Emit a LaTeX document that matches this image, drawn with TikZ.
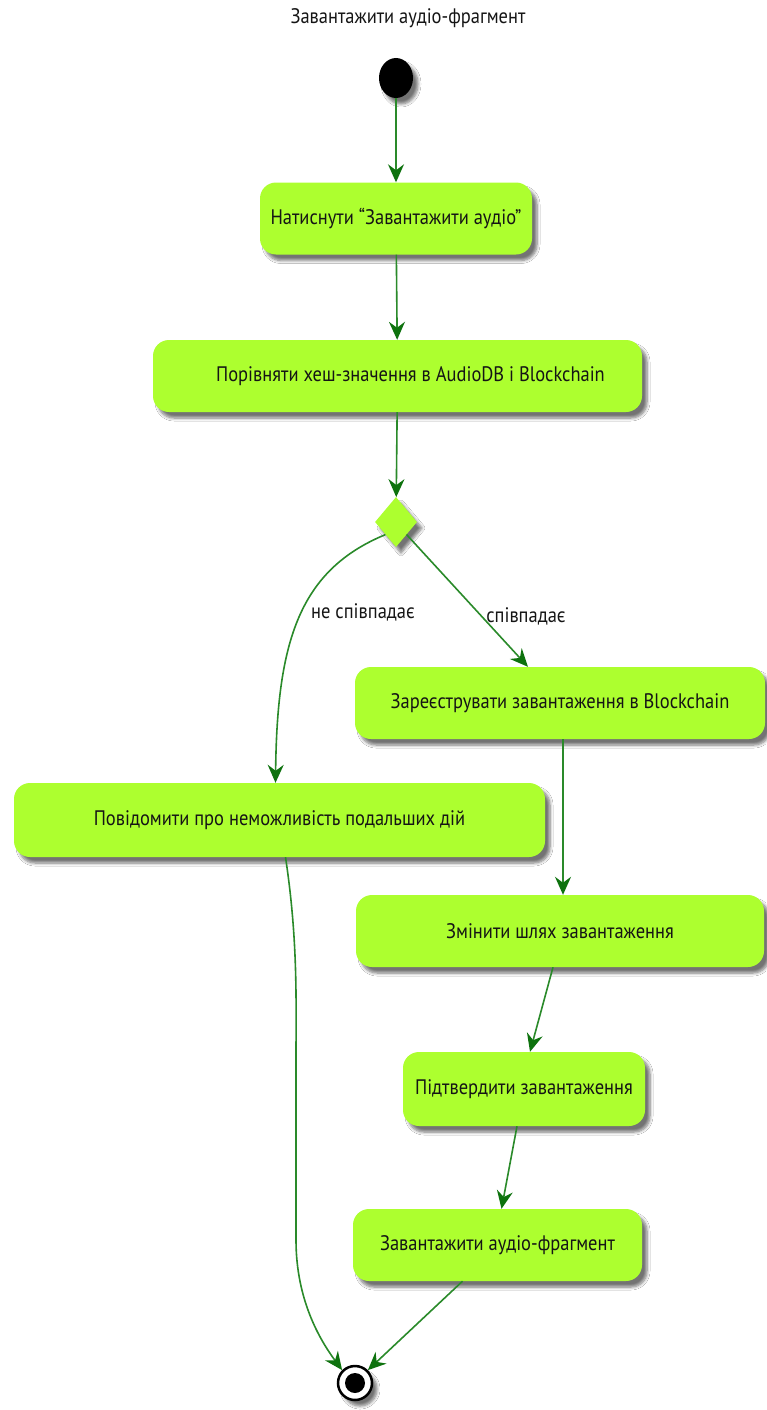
\documentclass[tikz,border=0pt]{standalone}
\usepackage{fontspec}
\setmainfont{PT Sans}[FakeStretch=0.88]
\usetikzlibrary{shapes.geometric,arrows.meta,shadows.blur,calc}

\definecolor{actfill}{HTML}{ADFF2F}
\definecolor{flowline}{HTML}{2A8A2A}
\definecolor{flowtip}{HTML}{0E720E}
\definecolor{inktext}{HTML}{151515}

\tikzset{
  softshadow/.style={blur shadow={shadow xshift=5pt, shadow yshift=-6pt,
      shadow blur radius=3pt, shadow blur steps=6, shadow opacity=55}},
  txt/.style={font=\fontsize{21}{25}\selectfont, text=inktext},
  act/.style={rectangle, rounded corners=16pt, fill=actfill, minimum height=72pt,
      inner sep=0pt, softshadow, txt},
  decision/.style={diamond, fill=actfill, minimum width=42pt, minimum height=50pt,
      inner sep=0pt, softshadow},
  startdot/.style={ellipse, fill=black, minimum width=34pt, minimum height=40pt,
      inner sep=0pt, softshadow},
  enddot/.style={circle, draw=black, line width=2.5pt, fill=white, minimum size=34pt,
      inner sep=0pt, softshadow,
      path picture={\fill[black] (path picture bounding box.center) circle (10pt);}},
  flow/.style={draw=flowline, line width=1.6pt,
      -{Stealth[length=18pt, width=16pt, inset=6pt, color=flowtip]}},
  guard/.style={txt}
}

\begin{document}
\begin{tikzpicture}[x=1pt, y=-1pt]
  \useasboundingbox (0,0) rectangle (766,1410);
  \fill[white] (0,0) rectangle (766,1410);

  % title
  \node[txt] (title) at (408,18) {Завантажити аудіо-фрагмент};

  % activity nodes
  \node[startdot] (start) at (396,78) {};
  \node[act, minimum width=272pt] (b1) at (396,218.5) {Натиснути “Завантажити аудіо”};
  \node[act, minimum width=489pt] (b2) at (397.5,376) {\hspace*{26pt}Порівняти хеш-значення в AudioDB і Blockchain};
  \node[decision] (dia) at (396,522) {};
  \node[act, minimum width=410pt] (b4) at (560,703) {Зареєструвати завантаження в Blockchain};
  \node[act, minimum width=531pt, minimum height=74pt] (b3) at (279.5,820) {Повідомити про неможливість подальших дій};
  \node[act, minimum width=408pt] (b5) at (560,931) {Змінити шлях завантаження};
  \node[act, minimum width=242pt, minimum height=74pt] (b6) at (524,1089) {Підтвердити завантаження};
  \node[act, minimum width=289pt] (b7) at (497.5,1245) {Завантажити аудіо-фрагмент};
  \node[enddot] (end) at (355,1383) {};

  % guard labels
  \node[guard] (gno) at (363,612) {не співпадає};
  \node[guard] (gyes) at (526,616) {співпадає};

  % transitions
  \draw[flow] (start) -- (b1);
  \draw[flow] (b1) -- (b2);
  \draw[flow] (b2) -- (dia);
  \draw[flow] (dia.south west) .. controls (300,570) and (277,640) .. ([xshift=-4pt]b3.north);
  \draw[flow] (dia.south east) -- ([xshift=-32pt]b4.north);
  \draw[flow] ([xshift=3pt]b4.south) -- ([xshift=3pt]b5.north);
  \draw[flow] ([xshift=-7pt]b5.south) -- ([xshift=6pt]b6.north);
  \draw[flow] ([xshift=-7pt]b6.south) -- ([xshift=4pt]b7.north);
  \draw[flow] ([xshift=-35pt]b7.south) -- (end.north east);
  \draw[flow] ([xshift=6pt]b3.south) .. controls (298,940) and (296,1000) .. (296,1060)
      -- (296,1240) .. controls (296,1300) and (320,1340) .. (end.north west);
\end{tikzpicture}
\end{document}
